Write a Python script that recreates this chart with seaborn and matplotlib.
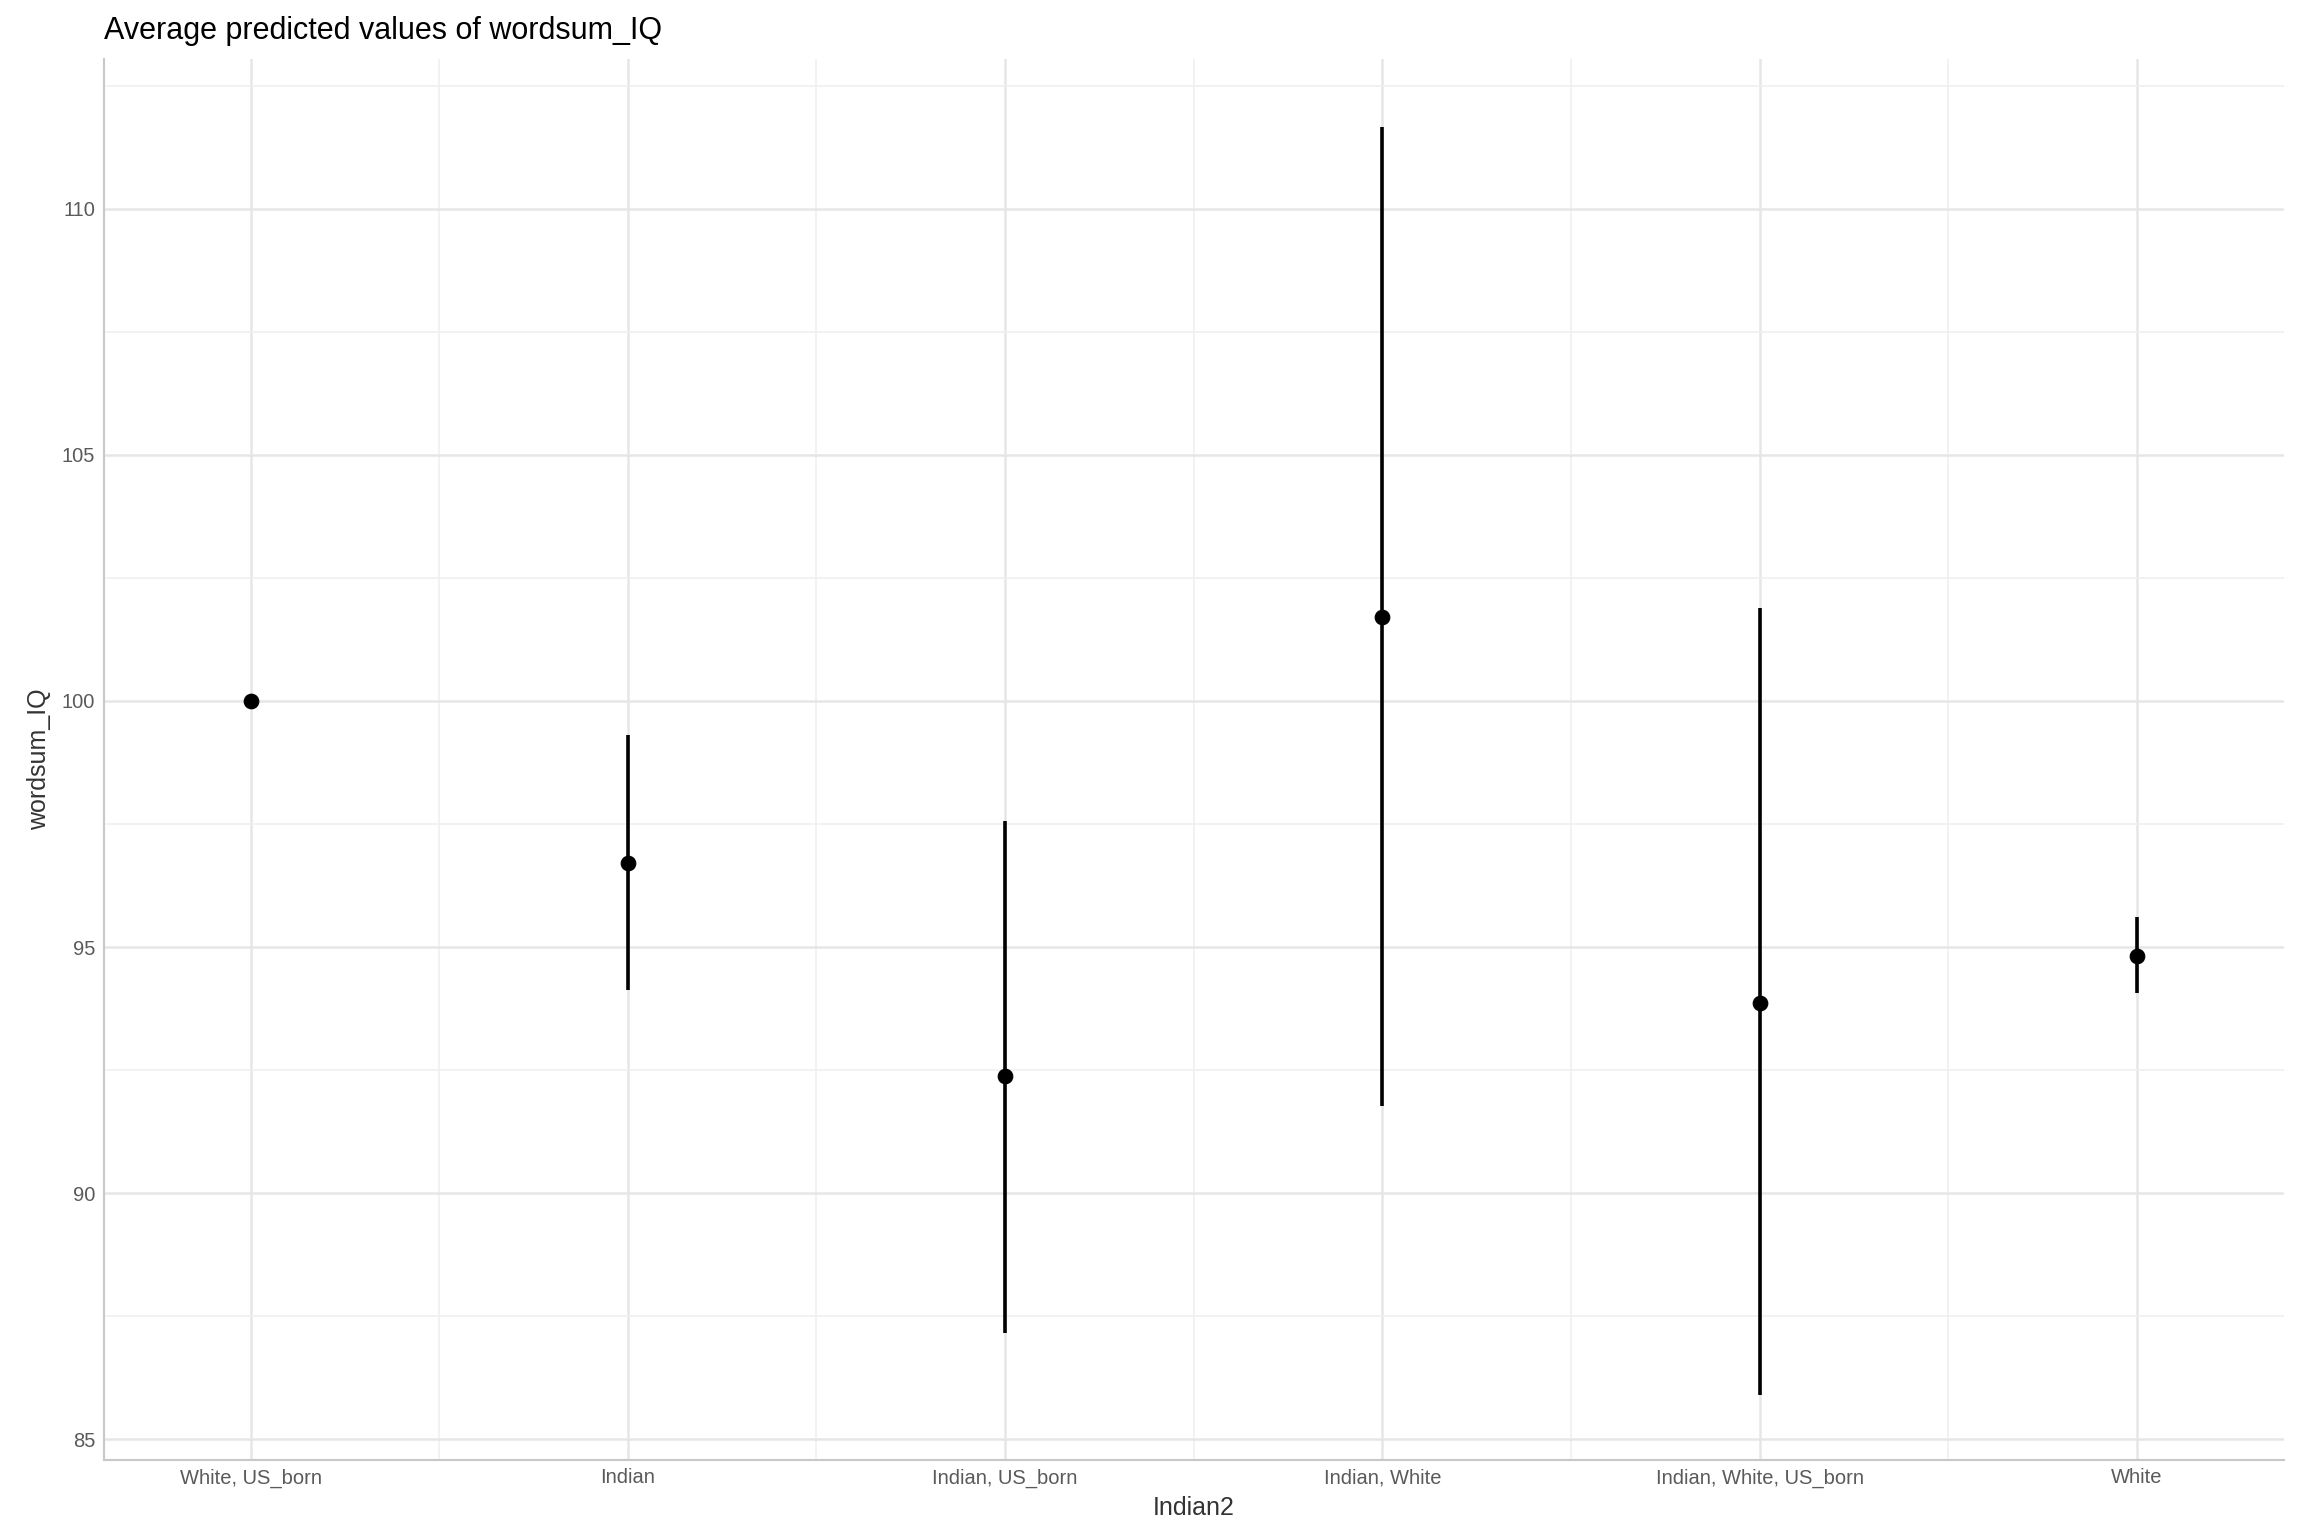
import matplotlib
matplotlib.use("Agg")
import matplotlib.pyplot as plt
import matplotlib.ticker as tck
import seaborn as sns
import pandas as pd

# values
groups = ["White, US_born", "Indian", "Indian, US_born", "Indian, White",
          "Indian, White, US_born", "White"]
predicted = [100.0, 96.71, 92.37, 101.71, 93.86, 94.82]
ci_low = [99.85, 94.13, 87.16, 91.77, 85.90, 94.07]
ci_high = [100.15, 99.31, 97.57, 111.65, 101.89, 95.60]

df = pd.DataFrame({"Indian2": groups, "wordsum_IQ": predicted,
                   "lo": ci_low, "hi": ci_high})

sns.set_theme(style="white")
plt.rcParams["font.family"] = ["Liberation Sans", "DejaVu Sans"]

fig = plt.figure(figsize=(23, 15.4), dpi=100)
ax = fig.add_axes([0.045, 0.052, 0.948, 0.91])

x = list(range(len(groups)))
ax.vlines(x, df["lo"], df["hi"], color="black", linewidth=2.6, zorder=3)
sns.scatterplot(x=x, y=df["wordsum_IQ"], color="black", s=110,
                edgecolor="black", zorder=4, ax=ax, legend=False)

ax.set_xlim(-0.39, len(groups) - 1 + 0.39)
ax.set_ylim(84.58, 113.05)
ax.set_xticks(x)
ax.set_xticklabels(groups)
ax.xaxis.set_minor_locator(tck.FixedLocator([i + 0.5 for i in x[:-1]]))
ax.yaxis.set_major_locator(tck.MultipleLocator(5))
ax.yaxis.set_minor_locator(tck.MultipleLocator(2.5))
ax.grid(which="major", color="#e6e6e6", linewidth=1.8)
ax.grid(which="minor", color="#f0f0f0", linewidth=1.2)
ax.set_axisbelow(True)

for s in ["top", "right"]:
    ax.spines[s].set_visible(False)
for s in ["left", "bottom"]:
    ax.spines[s].set_color("#c8c8c8")
    ax.spines[s].set_linewidth(1.5)

ax.tick_params(axis="both", which="both", length=0, labelsize=14.5,
               labelcolor="#5a5a5a", pad=6)
ax.set_xlabel("Indian2", fontsize=18, color="#333333", labelpad=6)
ax.set_ylabel("wordsum_IQ", fontsize=18, color="#333333", labelpad=8)
ax.set_title("Average predicted values of wordsum_IQ", loc="left",
             fontsize=22, color="black", pad=14)

fig.savefig("out.png", dpi=100)
